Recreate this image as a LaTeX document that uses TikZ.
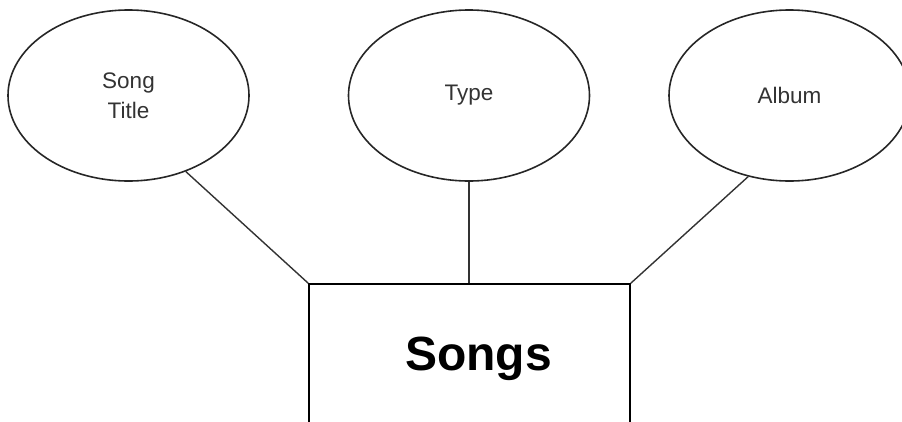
\documentclass[tikz,border=0pt]{standalone}
\usepackage{fontspec}
\setmainfont{Liberation Sans}
\usetikzlibrary{shapes.geometric}
\begin{document}
\begin{tikzpicture}[x=1pt,y=-1pt,
  attr/.style={draw=black!85, ellipse, line width=1.6pt, inner sep=0pt,
    minimum width=241pt, minimum height=171pt, align=center,
    font=\fontsize{22.5}{30}\selectfont, text=black!80},
  entity/.style={draw=black, rectangle, line width=1.6pt, inner sep=0pt,
    minimum width=321pt, minimum height=146pt},
  title/.style={font=\fontsize{48}{50}\selectfont\bfseries, inner sep=0pt},
  link/.style={draw=black!80, line width=1.4pt}]
  \useasboundingbox (0,0) rectangle (902,421);
  \clip (0,0) rectangle (902,421);
  \node[attr] (st) at (128.5,95.5) {\raisebox{-1.5pt}{Song}\\\raisebox{-1.5pt}{Title}};
  \node[attr] (ty) at (469,95.5) {Type};
  \node[attr] (al) at (789.5,95.5) {Album};
  \node[entity, label={[title, xshift=9pt, yshift=-2pt]center:Songs}]
    (songs) at (469.5,357) {};
  \draw[link] (st.-53) -- (songs.north west);
  \draw[link] (ty.south) -- (ty.south |- songs.north);
  \draw[link] (al.-117) -- (songs.north east);
\end{tikzpicture}
\end{document}
